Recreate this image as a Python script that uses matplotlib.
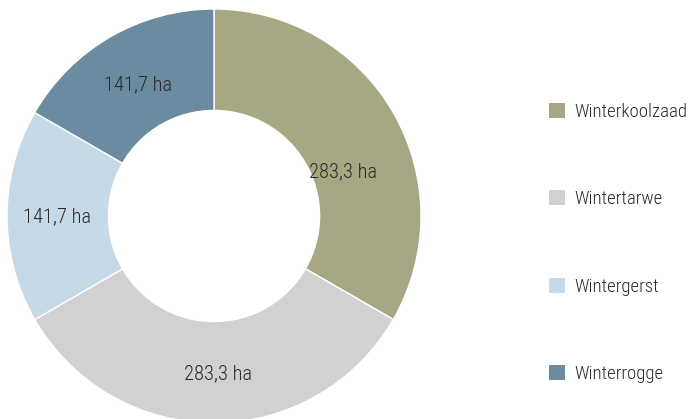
import matplotlib.pyplot as plt
from matplotlib.patches import Patch

plt.rcParams['font.family'] = ['Roboto Condensed', 'DejaVu Sans']

gewassen = ['Winterkoolzaad', 'Wintertarwe', 'Wintergerst', 'Winterrogge']
hectare = [283.3, 283.3, 141.7, 141.7]
kleuren = ['#a8a784', '#d1d1d3', '#c5dae6', '#6b8ba0']

# label anchors in data units (outer radius = 1)
label_pos = [(0.623, 0.213), (0.017, -0.763), (-0.758, -0.005), (-0.365, 0.633)]

fig = plt.figure(figsize=(6.91, 4.19), dpi=100)
ax = fig.add_axes([7 / 691, -4 / 419, 414 / 691, 414 / 419])
ax.pie(hectare, colors=kleuren, startangle=90, counterclock=False,
       wedgeprops=dict(width=0.49, edgecolor='white', linewidth=1))
ax.set_xlim(-1, 1)
ax.set_ylim(-1, 1)
ax.set_aspect('equal')

for v, (x, y) in zip(hectare, label_pos):
    txt = ('%.1f ha' % v).replace('.', ',')
    ax.text(x, y, txt, ha='center', va='center', fontsize=14.8,
            fontweight='light', color='#2b2b2b')

handles = [Patch(facecolor=c, edgecolor='none') for c in kleuren]
fig.legend(handles, gewassen, loc='upper left', bbox_to_anchor=(549 / 691, 1 - 103 / 419),
           frameon=False, prop=dict(size=13.5, weight='light'),
           handlelength=0.85, handleheight=0.85,
           handletextpad=0.5, labelspacing=3.7, borderpad=0, borderaxespad=0,
           labelcolor='#2b2b2b')

fig.savefig('out.png', dpi=100)
